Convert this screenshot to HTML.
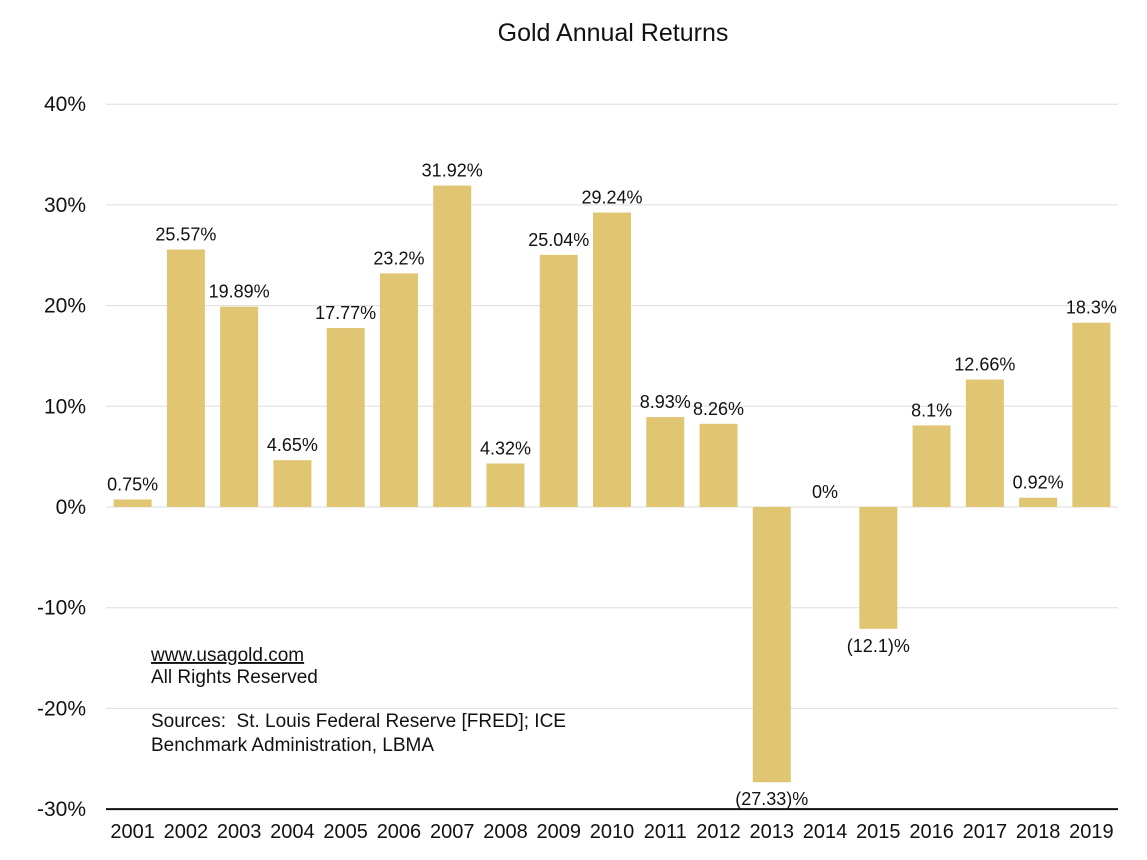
<!DOCTYPE html>
<html><head><meta charset="utf-8"><style>
body{margin:0;background:#fff;}
svg{display:block;font-family:"Liberation Sans",Arial,sans-serif;}
</style></head><body>
<svg id="chart" width="1147" height="860" viewBox="0 0 1147 860">
<text x="613" y="41" text-anchor="middle" font-size="25" fill="#111">Gold Annual Returns</text>
<g id="grid"></g><g id="bars"></g><g id="labels"></g><g id="xt"></g>
<g font-size="19" fill="#111">
<text x="151" y="661" text-decoration="underline">www.usagold.com</text>
<text x="151" y="683">All Rights Reserved</text>
<text x="151" y="727" xml:space="preserve">Sources:  St. Louis Federal Reserve [FRED]; ICE</text>
<text x="151" y="751">Benchmark Administration, LBMA</text>
</g>
</svg>
<script>
const years=["2001","2002","2003","2004","2005","2006","2007","2008","2009","2010","2011","2012","2013","2014","2015","2016","2017","2018","2019"];
const values=[0.75,25.57,19.89,4.65,17.77,23.2,31.92,4.32,25.04,29.24,8.93,8.26,-27.33,0,-12.1,8.1,12.66,0.92,18.3];
const valueLabels=["0.75%","25.57%","19.89%","4.65%","17.77%","23.2%","31.92%","4.32%","25.04%","29.24%","8.93%","8.26%","(27.33)%","0%","(12.1)%","8.1%","12.66%","0.92%","18.3%"];
const yTicks=[40,30,20,10,0,-10,-20,-30];
const yTickLabels=["40%","30%","20%","10%","0%","-10%","-20%","-30%"];
const NS="http://www.w3.org/2000/svg";
const x0=106,x1=1118,step=(x1-x0)/years.length,bw=38;
const y=v=>507-v*10.07;
const xc=i=>x0+step*(i+0.5);
function mk(t,a,p,txt){const e=document.createElementNS(NS,t);for(const k in a)e.setAttribute(k,a[k]);if(txt!==undefined)e.textContent=txt;document.getElementById(p).appendChild(e);return e;}
yTicks.forEach((t,i)=>{
 const l=mk('line',{x1:x0,x2:x1,y1:y(t),y2:y(t),stroke:t===-30?'#111':'#ddd','stroke-width':t===-30?2:1},'grid');
 
 
 const tx=mk('text',{x:86,y:y(t)+7,'text-anchor':'end','font-size':21,fill:'#111'},'grid',yTickLabels[i]);
 
 
});
values.forEach((v,i)=>{
 const top=Math.min(y(v),y(0)),h=Math.abs(y(v)-y(0));
 const r=mk('rect',{x:xc(i)-bw/2,y:top,width:bw,height:h,fill:'#e0c572'},'bars');
 
 
 const ly=v<0?y(v)+23:y(v)-9;
 const t=mk('text',{x:xc(i),y:ly,'text-anchor':'middle','font-size':18,fill:'#111'},'labels',valueLabels[i]);
 
 
 const xt=mk('text',{x:xc(i),y:838,'text-anchor':'middle','font-size':20,fill:'#111'},'xt',years[i]);
 
 
});
</script>
</body></html>
